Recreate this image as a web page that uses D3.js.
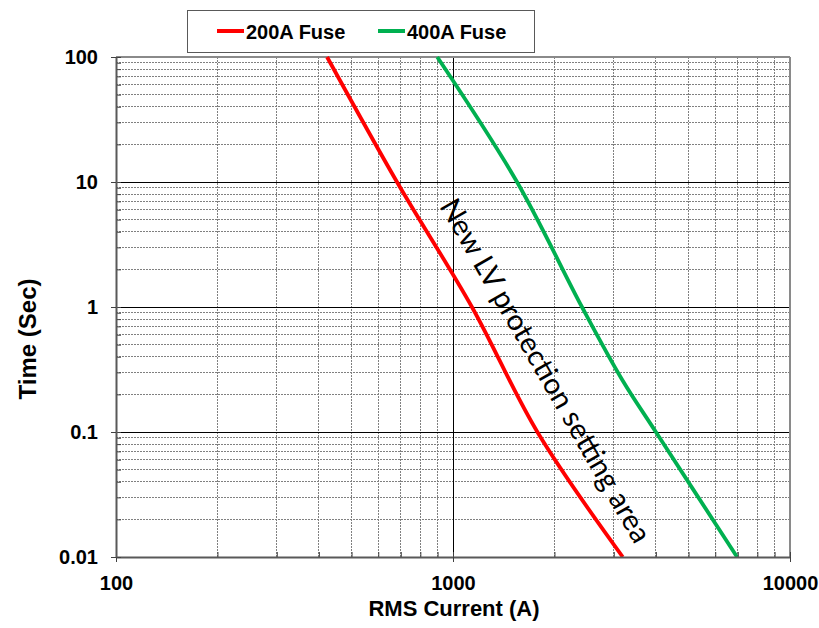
<!DOCTYPE html>
<html>
<head>
<meta charset="utf-8">
<script src="https://cdn.jsdelivr.net/npm/d3@7"></script>
<style>
  html, body { margin: 0; padding: 0; background: #fff; }
  svg { display: block; }
  text { font-family: "Liberation Sans", Arial, sans-serif; }
</style>
</head>
<body>
<svg id="chart" width="819" height="628"></svg>
<script>
// ---- data ----
const seriesNames = ["200A Fuse", "400A Fuse"];
const fuse200Current = [423, 682, 1138, 1780, 3190];
const fuse200Time    = [100, 10, 1.0, 0.1, 0.01];
const fuse400Current = [898, 1549, 2414, 3180, 4000, 6966];
const fuse400Time    = [100, 10, 1.0, 0.261, 0.1, 0.01];
const xTickValues = [100, 1000, 10000];
const yTickValues = [0.01, 0.1, 1, 10, 100];
const xTitle = "RMS Current (A)";
const yTitle = "Time (Sec)";
const annotation = "New LV protection setting area";

// ---- layout ----
const svg = d3.select("#chart");
const L = 116, R = 790, T = 57, B = 557;
const x = d3.scaleLog().domain([100, 10000]).range([L, R]);
const y = d3.scaleLog().domain([0.01, 100]).range([B, T]);
const colors = ["#ff0000", "#00b050"];

function minors(majors) {
  const out = [];
  for (let i = 0; i < majors.length - 1; i++)
    for (let k = 2; k <= 9; k++) out.push(majors[i] * k);
  return out;
}
const xMinor = minors(xTickValues);
const yMinor = minors(yTickValues);

// minor grid
const g = svg.append("g");
g.selectAll(".hmin").data(yMinor).join("line")
  .attr("x1", L).attr("x2", R).attr("y1", d => y(d)).attr("y2", d => y(d))
  .attr("stroke", "#808080").attr("stroke-width", 1).attr("stroke-dasharray", "2,1")
  .attr("shape-rendering", "crispEdges");
g.selectAll(".vmin").data(xMinor).join("line")
  .attr("y1", T).attr("y2", B).attr("x1", d => x(d)).attr("x2", d => x(d))
  .attr("stroke", "#808080").attr("stroke-width", 1).attr("stroke-dasharray", "2,1")
  .attr("shape-rendering", "crispEdges");
// major grid
g.selectAll(".hmaj").data(yTickValues.slice(1, -1)).join("line")
  .attr("x1", L).attr("x2", R).attr("y1", d => y(d)).attr("y2", d => y(d))
  .attr("stroke", "#000").attr("stroke-width", 1).attr("shape-rendering", "crispEdges");
g.selectAll(".vmaj").data(xTickValues.slice(1, -1)).join("line")
  .attr("y1", T).attr("y2", B).attr("x1", d => x(d)).attr("x2", d => x(d))
  .attr("stroke", "#000").attr("stroke-width", 1).attr("shape-rendering", "crispEdges");
// top and right frame
g.append("line").attr("x1", L).attr("x2", R).attr("y1", T).attr("y2", T)
  .attr("stroke", "#8a8a8a").attr("stroke-width", 2);
g.append("line").attr("x1", R).attr("x2", R).attr("y1", T).attr("y2", B)
  .attr("stroke", "#8a8a8a").attr("stroke-width", 2);

// curves
const line = d3.line().x(d => x(d[0])).y(d => y(d[1])).curve(d3.curveCatmullRom.alpha(0.5));
const series = [
  d3.zip(fuse200Current, fuse200Time),
  d3.zip(fuse400Current, fuse400Time)
];
svg.append("g").selectAll("path").data(series).join("path")
  .attr("d", line).attr("fill", "none")
  .attr("stroke", (d, i) => colors[i]).attr("stroke-width", 3.8)
  .attr("stroke-linejoin", "round");

// axes
function styleAxis(sel) {
  sel.select(".domain").attr("stroke", "#595959").attr("stroke-width", 2);
  sel.selectAll(".tick line").attr("stroke", "#404040").attr("stroke-width", 1);
  sel.selectAll("text").attr("font-family", "Liberation Sans, Arial, sans-serif")
    .attr("font-weight", "bold").attr("font-size", 20).attr("fill", "#000");
}
const fmt = d => (d >= 1 ? d3.format("d")(d) : String(d));
svg.append("g").attr("transform", `translate(0,${B})`)
  .call(d3.axisBottom(x).tickValues(xTickValues.concat(xMinor)).tickSize(-5).tickFormat("").tickSizeOuter(0))
  .call(s => s.selectAll(".tick line").attr("stroke", "#404040"))
  .call(s => s.select(".domain").remove());
svg.append("g").attr("transform", `translate(0,${B})`)
  .call(d3.axisBottom(x).tickValues(xTickValues).tickSize(5).tickPadding(14).tickFormat(fmt).tickSizeOuter(0))
  .call(styleAxis);

svg.append("g").attr("transform", `translate(${L},0)`)
  .call(d3.axisLeft(y).tickValues(yTickValues.concat(yMinor)).tickSize(-5).tickFormat("").tickSizeOuter(0))
  .call(s => s.selectAll(".tick line").attr("stroke", "#404040"))
  .call(s => s.select(".domain").remove());
svg.append("g").attr("transform", `translate(${L},0)`)
  .call(d3.axisLeft(y).tickValues(yTickValues).tickSize(5).tickPadding(13).tickFormat(fmt).tickSizeOuter(0))
  .call(styleAxis);

// axis titles
svg.append("text").attr("x", 454).attr("y", 616).attr("text-anchor", "middle")
  .style("font-weight", "bold").attr("font-size", 22).text(xTitle);
svg.append("text").attr("transform", "translate(36,339) rotate(-90)").attr("text-anchor", "middle")
  .style("font-weight", "bold").attr("font-size", 24).text(yTitle);

// annotation
const ann = svg.append("text").attr("transform", "translate(439,206) rotate(60)")
  .style("font-family", "Lato, 'Open Sans', sans-serif").style("font-size", "24px").attr("fill", "#000")
  .text(annotation);
const len = ann.node().getComputedTextLength();
ann.style("font-size", (24 * 392 / len) + "px");

// legend
const lg = svg.append("g");
lg.append("rect").attr("x", 187.5).attr("y", 10.5).attr("width", 347).attr("height", 42)
  .attr("fill", "#fff").attr("stroke", "#595959").attr("stroke-width", 1);
const legendX = [[217, 244, 246], [378, 405, 407]];
seriesNames.forEach((name, i) => {
  lg.append("line").attr("x1", legendX[i][0]).attr("x2", legendX[i][1]).attr("y1", 31).attr("y2", 31)
    .attr("stroke", colors[i]).attr("stroke-width", 4);
  lg.append("text").attr("x", legendX[i][2]).attr("y", 38.5)
    .style("font-weight", "bold").style("font-size", "20px").text(name);
});
</script>
</body>
</html>
